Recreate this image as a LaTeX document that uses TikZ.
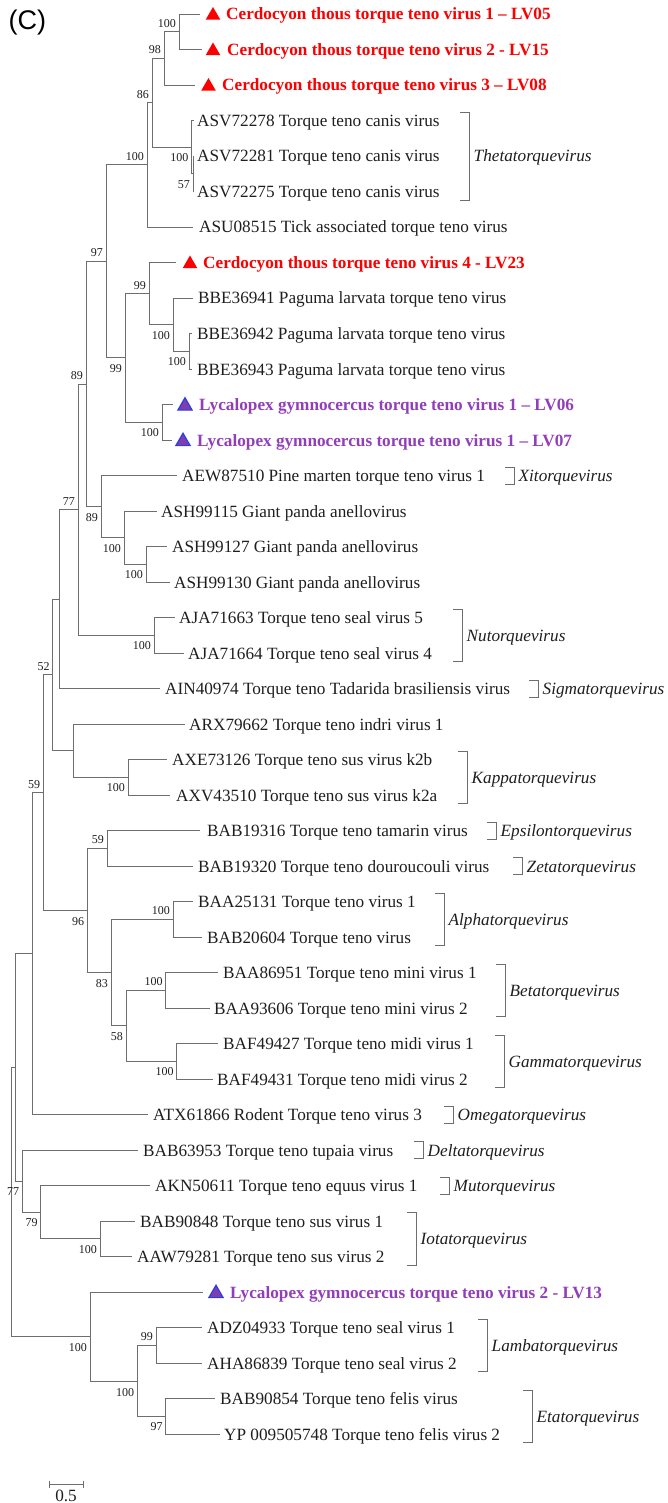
\documentclass[tikz,border=0pt]{standalone}
\usepackage{fontspec}
\setmainfont{Liberation Serif}
\newfontfamily\labsans{Liberation Sans}
\usetikzlibrary{shapes.geometric}
\definecolor{treegray}{RGB}{110,110,110}
\definecolor{cerdored}{RGB}{250,0,0}
\definecolor{lycatext}{RGB}{145,62,185}
\definecolor{lycafill}{RGB}{125,62,175}
\definecolor{lycaedge}{RGB}{45,60,225}
\definecolor{txt}{RGB}{30,30,30}
\tikzset{
 branch/.style={draw=treegray, line width=0.9pt},
 leaftext/.style={anchor=base west, inner sep=0pt, text=txt, font=\fontsize{17.2}{20}\selectfont},
 cerdotext/.style={anchor=base west, inner sep=0pt, text=cerdored, font=\fontsize{17.2}{20}\selectfont\bfseries},
 lycatextst/.style={anchor=base west, inner sep=0pt, text=lycatext, font=\fontsize{17.2}{20}\selectfont\bfseries},
 redtri/.style={regular polygon, regular polygon sides=3, minimum size=17pt, inner sep=0pt, fill=cerdored, draw=none},
 lycatri/.style={regular polygon, regular polygon sides=3, minimum size=16.5pt, inner sep=0pt, fill=lycafill, draw=lycaedge, line width=1.2pt},
 supabove/.style={anchor=base east, inner sep=0pt, font=\fontsize{12}{12}\selectfont, text=txt},
 supbelow/.style={anchor=north east, inner sep=0pt, font=\fontsize{12}{12}\selectfont, text=txt},
 bracket/.style={draw=treegray, line width=0.9pt},
 genustext/.style={anchor=base west, inner sep=0pt, font=\fontsize{17.2}{20}\selectfont\itshape, text=txt},
}
\newcommand\leaf[5]{\coordinate (l#1) at (#3,#2); \node[leaftext] (t#1) at (#4,#2+6) {#5};}
\newcommand\cleaf[6]{\coordinate (l#1) at (#3,#2); \node[redtri] (tri#1) at (#4,#2+1.5) {}; \node[cerdotext] (t#1) at (#5,#2+6) {#6};}
\newcommand\lleaf[6]{\coordinate (l#1) at (#3,#2); \node[lycatri] (tri#1) at (#4,#2+1.5) {}; \node[lycatextst] (t#1) at (#5,#2+6) {#6};}
\newcommand\supA[2]{\node[supabove] (s#1) at ([shift={(-3,-4.5)}]#1) {#2};}
\newcommand\supB[2]{\node[supbelow] (s#1) at ([shift={(-3,6.5)}]#1) {#2};}
\newcommand\genus[5]{\draw[bracket] (#2-9,#3) -- (#2,#3) -- (#2,#4) -- (#2-9,#4); \node[genustext] (g#1) at (#2+4.5,{(#3+#4)/2+6}) {#5};}
\begin{document}
\begin{tikzpicture}[x=1pt,y=-1pt]
\useasboundingbox (0,0) rectangle (668,1503);
\node[anchor=base west, inner sep=0pt, font=\labsans\fontsize{27}{30}\selectfont] (panel) at (8.5,29.5) {(C)};
% leaves
\cleaf{1}{14}{200}{213}{226}{Cerdocyon thous torque teno virus 1 – LV05}
\cleaf{2}{49.5}{202}{213}{227}{Cerdocyon thous torque teno virus 2 - LV15}
\cleaf{3}{85}{195}{208.5}{222}{Cerdocyon thous torque teno virus 3 – LV08}
\leaf{4}{120.5}{194}{197}{ASV72278 Torque teno canis virus}
\leaf{5}{156}{194}{197}{ASV72281 Torque teno canis virus}
\leaf{6}{191.5}{194}{197}{ASV72275 Torque teno canis virus}
\leaf{7}{227}{193}{199}{ASU08515 Tick associated torque teno virus}
\cleaf{8}{262.5}{176}{190}{203}{Cerdocyon thous torque teno virus 4 - LV23}
\leaf{9}{298}{193}{198}{BBE36941 Paguma larvata torque teno virus}
\leaf{10}{333.5}{192}{197}{BBE36942 Paguma larvata torque teno virus}
\leaf{11}{369}{192}{197}{BBE36943 Paguma larvata torque teno virus}
\lleaf{12}{404.5}{173}{185}{199}{Lycalopex gymnocercus torque teno virus 1 – LV06}
\lleaf{13}{440}{172}{183}{197}{Lycalopex gymnocercus torque teno virus 1 – LV07}
\leaf{14}{475.5}{177}{182}{AEW87510 Pine marten torque teno virus 1}
\leaf{15}{511}{157}{161}{ASH99115 Giant panda anellovirus}
\leaf{16}{546.5}{167}{172}{ASH99127 Giant panda anellovirus}
\leaf{17}{582}{170}{174}{ASH99130 Giant panda anellovirus}
\leaf{18}{617.5}{175}{179}{AJA71663 Torque teno seal virus 5}
\leaf{19}{653}{184}{188}{AJA71664 Torque teno seal virus 4}
\leaf{20}{688.5}{160}{165}{AIN40974 Torque teno Tadarida brasiliensis virus}
\leaf{21}{724}{185}{189}{ARX79662 Torque teno indri virus 1}
\leaf{22}{759.5}{167}{172}{AXE73126 Torque teno sus virus k2b}
\leaf{23}{795}{170}{176}{AXV43510 Torque teno sus virus k2a}
\leaf{24}{830.5}{200}{207}{BAB19316 Torque teno tamarin virus}
\leaf{25}{866}{193}{198}{BAB19320 Torque teno douroucouli virus}
\leaf{26}{901.5}{193}{198}{BAA25131 Torque teno virus 1}
\leaf{27}{937}{202}{207}{BAB20604 Torque teno virus}
\leaf{28}{972.5}{218}{223}{BAA86951 Torque teno mini virus 1}
\leaf{29}{1008}{210}{214}{BAA93606 Torque teno mini virus 2}
\leaf{30}{1043.5}{218}{223}{BAF49427 Torque teno midi virus 1}
\leaf{31}{1079}{213}{217}{BAF49431 Torque teno midi virus 2}
\leaf{32}{1114.5}{148}{153}{ATX61866 Rodent Torque teno virus 3}
\leaf{33}{1150}{138}{143}{BAB63953 Torque teno tupaia virus}
\leaf{34}{1185.5}{150}{155}{AKN50611 Torque teno equus virus 1}
\leaf{35}{1221}{135}{140}{BAB90848 Torque teno sus virus 1}
\leaf{36}{1256.5}{132}{137}{AAW79281 Torque teno sus virus 2}
\lleaf{37}{1292}{203}{216}{230}{Lycalopex gymnocercus torque teno virus 2 - LV13}
\leaf{38}{1327.5}{202}{207}{ADZ04933 Torque teno seal virus 1}
\leaf{39}{1363}{202}{207}{AHA86839 Torque teno seal virus 2}
\leaf{40}{1398.5}{215}{220}{BAB90854 Torque teno felis virus}
\leaf{41}{1434}{220}{224}{YP 009505748 Torque teno felis virus 2}
% internal nodes
\coordinate (n100a) at (179,31.75);
\coordinate (n98) at (164,58.375);
\coordinate (thI) at (193,173.75);
\coordinate (thO) at (191.5,147.125);
\coordinate (n86) at (152,102.75);
\coordinate (n100b) at (147,164.875);
\coordinate (n100q) at (189,351.25);
\coordinate (n100p) at (173,324.625);
\coordinate (n99a) at (149,293.5625);
\coordinate (n100L) at (162,422.25);
\coordinate (n99b) at (125,357.906);
\coordinate (n97) at (106,261.39);
\coordinate (n100h) at (146,564.25);
\coordinate (n100g) at (124,537.625);
\coordinate (n89b) at (101,506.5625);
\coordinate (n89a) at (86,383.98);
\coordinate (n100n) at (154,635.25);
\coordinate (n77) at (78,509.61);
\coordinate (nx) at (59.3,599.06);
\coordinate (n100k) at (128,777.25);
\coordinate (nkappa) at (73.3,750.625);
\coordinate (n52) at (52.7,674.84);
\coordinate (n59b) at (107,848.25);
\coordinate (n100alpha) at (173,919.25);
\coordinate (n100beta) at (165.7,990.25);
\coordinate (n100gamma) at (176.7,1061.25);
\coordinate (n58) at (126,1025.75);
\coordinate (n83) at (111,972.5);
\coordinate (n96) at (87.3,910.375);
\coordinate (n59) at (43.3,792.61);
\coordinate (ny) at (32.7,953.55);
\coordinate (n100i) at (100,1238.75);
\coordinate (n79) at (40.7,1212.125);
\coordinate (nw) at (22.3,1181.06);
\coordinate (nz) at (15,1067.3);
\coordinate (n99l) at (156,1345.25);
\coordinate (n97f) at (165.7,1416.25);
\coordinate (n100s) at (137.3,1381.75);
\coordinate (n100r) at (90,1336.875);
\coordinate (root) at (11.7,1202.1);
% branches
\draw[branch] (n100a) |- (l1); \draw[branch] (n100a) |- (l2);
\draw[branch] (n98) |- (n100a); \draw[branch] (n98) |- (l3);
\draw[branch] (thI) |- (l5); \draw[branch] (thI) |- (l6);
\draw[branch] (thO) |- (l4); \draw[branch] (thO) |- (thI);
\draw[branch] (n86) |- (n98); \draw[branch] (n86) |- (thO);
\draw[branch] (n100b) |- (n86); \draw[branch] (n100b) |- (l7);
\draw[branch] (n100q) |- (l10); \draw[branch] (n100q) |- (l11);
\draw[branch] (n100p) |- (l9); \draw[branch] (n100p) |- (n100q);
\draw[branch] (n99a) |- (l8); \draw[branch] (n99a) |- (n100p);
\draw[branch] (n100L) |- (l12); \draw[branch] (n100L) |- (l13);
\draw[branch] (n99b) |- (n99a); \draw[branch] (n99b) |- (n100L);
\draw[branch] (n97) |- (n100b); \draw[branch] (n97) |- (n99b);
\draw[branch] (n100h) |- (l16); \draw[branch] (n100h) |- (l17);
\draw[branch] (n100g) |- (l15); \draw[branch] (n100g) |- (n100h);
\draw[branch] (n89b) |- (l14); \draw[branch] (n89b) |- (n100g);
\draw[branch] (n89a) |- (n97); \draw[branch] (n89a) |- (n89b);
\draw[branch] (n100n) |- (l18); \draw[branch] (n100n) |- (l19);
\draw[branch] (n77) |- (n89a); \draw[branch] (n77) |- (n100n);
\draw[branch] (nx) |- (n77); \draw[branch] (nx) |- (l20);
\draw[branch] (n100k) |- (l22); \draw[branch] (n100k) |- (l23);
\draw[branch] (nkappa) |- (l21); \draw[branch] (nkappa) |- (n100k);
\draw[branch] (n52) |- (nx); \draw[branch] (n52) |- (nkappa);
\draw[branch] (n59b) |- (l24); \draw[branch] (n59b) |- (l25);
\draw[branch] (n100alpha) |- (l26); \draw[branch] (n100alpha) |- (l27);
\draw[branch] (n100beta) |- (l28); \draw[branch] (n100beta) |- (l29);
\draw[branch] (n100gamma) |- (l30); \draw[branch] (n100gamma) |- (l31);
\draw[branch] (n58) |- (n100beta); \draw[branch] (n58) |- (n100gamma);
\draw[branch] (n83) |- (n100alpha); \draw[branch] (n83) |- (n58);
\draw[branch] (n96) |- (n59b); \draw[branch] (n96) |- (n83);
\draw[branch] (n59) |- (n52); \draw[branch] (n59) |- (n96);
\draw[branch] (ny) |- (n59); \draw[branch] (ny) |- (l32);
\draw[branch] (n100i) |- (l35); \draw[branch] (n100i) |- (l36);
\draw[branch] (n79) |- (l34); \draw[branch] (n79) |- (n100i);
\draw[branch] (nw) |- (l33); \draw[branch] (nw) |- (n79);
\draw[branch] (nz) |- (ny); \draw[branch] (nz) |- (nw);
\draw[branch] (n99l) |- (l38); \draw[branch] (n99l) |- (l39);
\draw[branch] (n97f) |- (l40); \draw[branch] (n97f) |- (l41);
\draw[branch] (n100s) |- (n99l); \draw[branch] (n100s) |- (n97f);
\draw[branch] (n100r) |- (l37); \draw[branch] (n100r) |- (n100s);
\draw[branch] (root) |- (nz); \draw[branch] (root) |- (n100r);
% support values
\supA{n100a}{100} \supA{n98}{98} \supA{n86}{86} \supA{n100b}{100}
\supB{thO}{100} \supB{thI}{57} \supA{n97}{97} \supA{n99a}{99}
\supB{n100p}{100} \supB{n100q}{100} \supB{n99b}{99} \supB{n100L}{100}
\supA{n89a}{89} \supB{n89b}{89} \supA{n77}{77} \supB{n100g}{100}
\supB{n100h}{100} \supB{n100n}{100} \supA{n52}{52} \supB{n100k}{100}
\supA{n59}{59} \supA{n59b}{59} \supB{n96}{96} \supA{n100alpha}{100}
\supB{n83}{83} \supA{n100beta}{100} \supB{n58}{58} \supB{n100gamma}{100}
\supB{nw}{77} \supB{n79}{79} \supB{n100i}{100} \supB{n100r}{100}
\supA{n99l}{99} \supB{n100s}{100} \supB{n97f}{97}
% genera
\genus{theta}{469}{112}{200}{Thetatorquevirus}
\genus{xito}{514}{467}{484}{Xitorquevirus}
\genus{nuto}{462}{609}{661.5}{Nutorquevirus}
\genus{sigma}{538}{680}{697}{Sigmatorquevirus}
\genus{kappa}{467}{751}{803.5}{Kappatorquevirus}
\genus{eps}{496}{822}{839}{Epsilontorquevirus}
\genus{zeta}{522}{857.5}{874.5}{Zetatorquevirus}
\genus{alpha}{444}{893}{945.5}{Alphatorquevirus}
\genus{beta}{505}{964}{1016.5}{Betatorquevirus}
\genus{gamma}{504}{1035}{1087.5}{Gammatorquevirus}
\genus{omega}{453}{1106}{1123}{Omegatorquevirus}
\genus{delta}{423}{1141.5}{1158.5}{Deltatorquevirus}
\genus{mu}{449}{1177}{1194}{Mutorquevirus}
\genus{iota}{416}{1212.5}{1265}{Iotatorquevirus}
\genus{lambda}{487}{1319}{1371.5}{Lambatorquevirus}
\genus{eta}{532}{1390}{1442.5}{Etatorquevirus}
% scale bar
\coordinate (sb1) at (49,1484); \coordinate (sb2) at (83,1484);
\draw[branch] (sb1) -- (sb2);
\draw[branch] (sb1) ++(0,-3.5) -- ++(0,7);
\draw[branch] (sb2) ++(0,-3.5) -- ++(0,7);
\node[anchor=base, inner sep=0pt, text=txt, font=\fontsize{17.2}{20}\selectfont] (sbl) at (66,1501) {0.5};
\end{tikzpicture}
\end{document}
